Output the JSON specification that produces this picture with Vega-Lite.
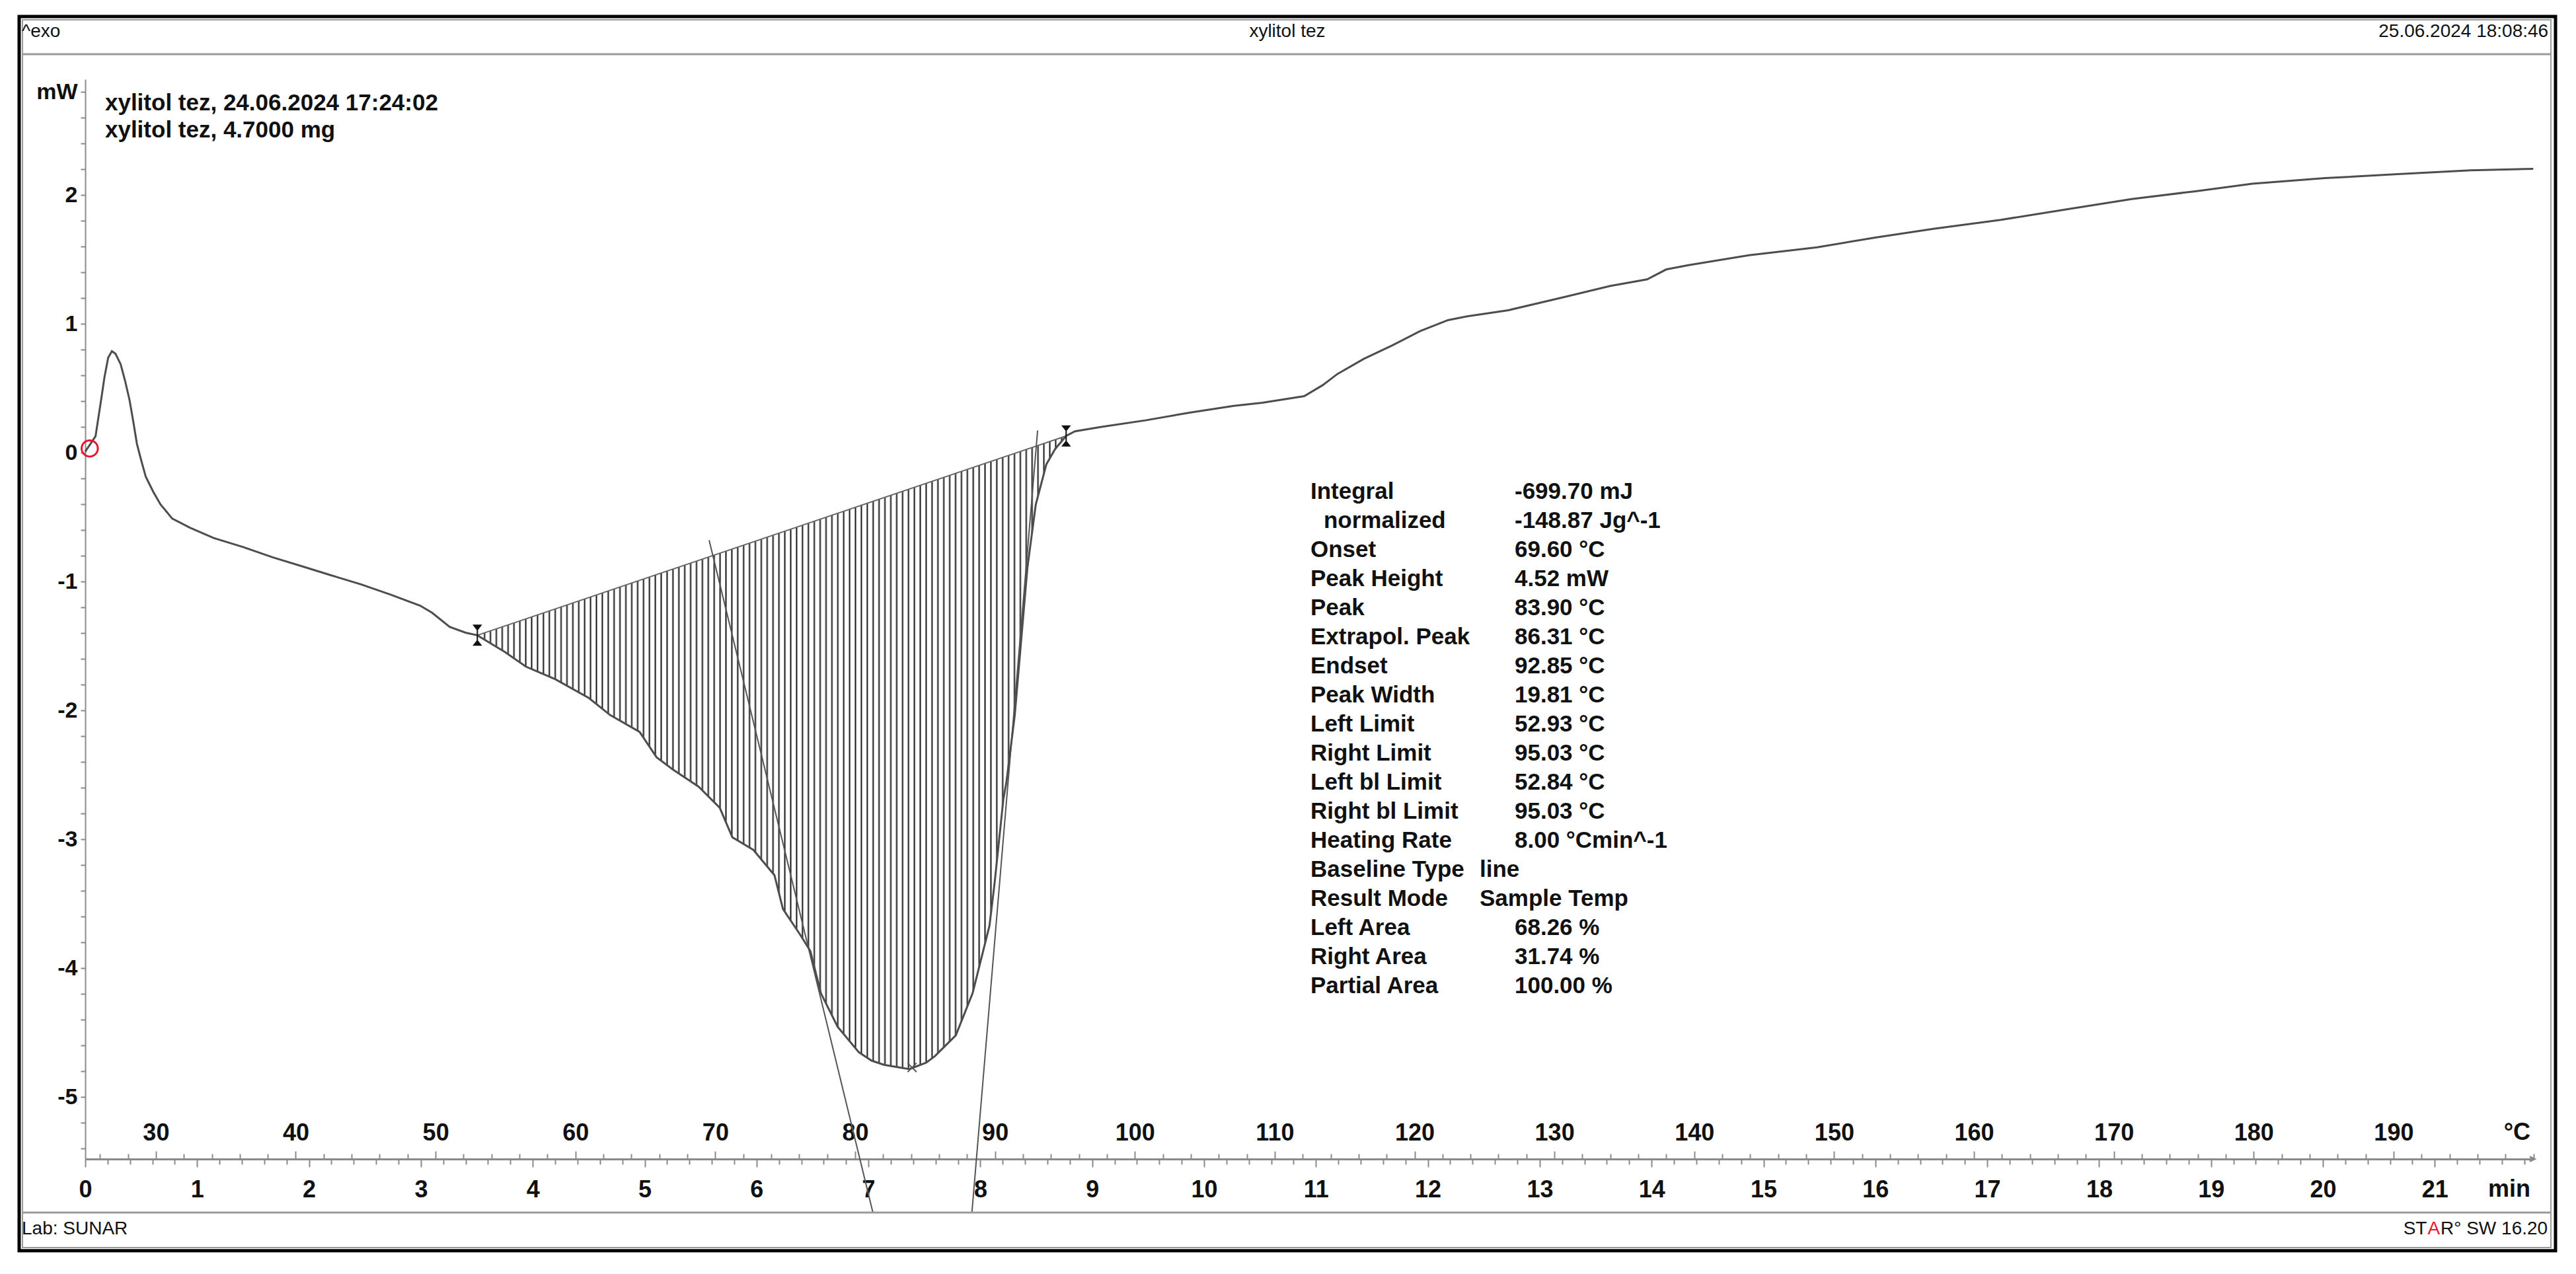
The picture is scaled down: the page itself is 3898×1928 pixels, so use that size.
{
  "$schema": "https://vega.github.io/schema/vega-lite/v6.json",
  "width": 3706,
  "height": 1634,
  "autosize": "none",
  "padding": {"left": 129, "top": 120, "right": 63, "bottom": 174},
  "background": "#ffffff",
  "config": {
    "view": {"stroke": null},
    "font": "Liberation Sans",
    "axis": {
      "grid": false,
      "labelFont": "Liberation Sans",
      "labelFontWeight": "bold",
      "labelColor": "#111111",
      "domainColor": "#8a8a8a",
      "tickColor": "#8a8a8a",
      "tickWidth": 2,
      "labelFlush": false,
      "labelOverlap": false,
      "labelBound": false
    }
  },
  "datasets": {
    "dsc": [
      {"t": 0, "v": 0.01},
      {"t": 0.092, "v": 0.13},
      {"t": 0.145, "v": 0.43},
      {"t": 0.172, "v": 0.59},
      {"t": 0.205, "v": 0.74},
      {"t": 0.238, "v": 0.79},
      {"t": 0.27, "v": 0.77},
      {"t": 0.316, "v": 0.69},
      {"t": 0.356, "v": 0.56},
      {"t": 0.396, "v": 0.41},
      {"t": 0.43, "v": 0.24},
      {"t": 0.462, "v": 0.07},
      {"t": 0.501, "v": -0.06},
      {"t": 0.541, "v": -0.185},
      {"t": 0.607, "v": -0.3},
      {"t": 0.673, "v": -0.4},
      {"t": 0.778, "v": -0.51},
      {"t": 0.936, "v": -0.58},
      {"t": 1.147, "v": -0.66},
      {"t": 1.411, "v": -0.73},
      {"t": 1.675, "v": -0.81},
      {"t": 1.938, "v": -0.88},
      {"t": 2.2, "v": -0.95},
      {"t": 2.465, "v": -1.02},
      {"t": 2.729, "v": -1.1},
      {"t": 2.993, "v": -1.185},
      {"t": 3.1, "v": -1.24},
      {"t": 3.257, "v": -1.35},
      {"t": 3.4, "v": -1.395},
      {"t": 3.5045, "v": -1.415, "base": -1.415},
      {"t": 3.749, "v": -1.544, "base": -1.343},
      {"t": 3.938, "v": -1.658, "base": -1.288},
      {"t": 4.201, "v": -1.756, "base": -1.21},
      {"t": 4.503, "v": -1.903, "base": -1.122},
      {"t": 4.691, "v": -2.034, "base": -1.066},
      {"t": 4.955, "v": -2.165, "base": -0.989},
      {"t": 5.106, "v": -2.361, "base": -0.944},
      {"t": 5.256, "v": -2.459, "base": -0.9},
      {"t": 5.482, "v": -2.59, "base": -0.834},
      {"t": 5.671, "v": -2.754, "base": -0.778},
      {"t": 5.784, "v": -2.983, "base": -0.745},
      {"t": 5.972, "v": -3.081, "base": -0.69},
      {"t": 6.16, "v": -3.277, "base": -0.635},
      {"t": 6.236, "v": -3.539, "base": -0.612},
      {"t": 6.387, "v": -3.735, "base": -0.568},
      {"t": 6.481, "v": -3.866, "base": -0.54},
      {"t": 6.575, "v": -4.193, "base": -0.513},
      {"t": 6.725, "v": -4.454, "base": -0.469},
      {"t": 6.914, "v": -4.651, "base": -0.413},
      {"t": 7.027, "v": -4.716, "base": -0.38},
      {"t": 7.14, "v": -4.749, "base": -0.347},
      {"t": 7.366, "v": -4.782, "base": -0.28},
      {"t": 7.516, "v": -4.732, "base": -0.236},
      {"t": 7.592, "v": -4.683, "base": -0.214},
      {"t": 7.781, "v": -4.52, "base": -0.158},
      {"t": 7.931, "v": -4.193, "base": -0.114},
      {"t": 8.082, "v": -3.669, "base": -0.07},
      {"t": 8.127, "v": -3.343, "base": -0.056},
      {"t": 8.206, "v": -2.688, "base": -0.033},
      {"t": 8.233, "v": -2.557, "base": -0.025},
      {"t": 8.308, "v": -2.034, "base": -0.003},
      {"t": 8.421, "v": -0.889, "base": 0.03},
      {"t": 8.496, "v": -0.399, "base": 0.052},
      {"t": 8.59, "v": -0.089, "base": 0.08},
      {"t": 8.669, "v": 0.031, "base": 0.103},
      {"t": 8.767, "v": 0.132, "base": 0.132},
      {"t": 8.846, "v": 0.168},
      {"t": 9.083, "v": 0.202},
      {"t": 9.476, "v": 0.253},
      {"t": 9.87, "v": 0.313},
      {"t": 10.264, "v": 0.365},
      {"t": 10.52, "v": 0.39},
      {"t": 10.895, "v": 0.441},
      {"t": 11.06, "v": 0.526},
      {"t": 11.19, "v": 0.612},
      {"t": 11.43, "v": 0.731},
      {"t": 11.68, "v": 0.834},
      {"t": 11.93, "v": 0.945},
      {"t": 12.18, "v": 1.031},
      {"t": 12.35, "v": 1.06},
      {"t": 12.72, "v": 1.108},
      {"t": 13.22, "v": 1.21},
      {"t": 13.63, "v": 1.296},
      {"t": 13.96, "v": 1.347},
      {"t": 14.13, "v": 1.424},
      {"t": 14.33, "v": 1.458},
      {"t": 14.87, "v": 1.535},
      {"t": 15.48, "v": 1.596},
      {"t": 16.0, "v": 1.672},
      {"t": 16.52, "v": 1.74},
      {"t": 17.12, "v": 1.809},
      {"t": 17.73, "v": 1.894},
      {"t": 18.29, "v": 1.971},
      {"t": 18.85, "v": 2.03},
      {"t": 19.37, "v": 2.09},
      {"t": 20.02, "v": 2.133},
      {"t": 20.67, "v": 2.164},
      {"t": 21.32, "v": 2.193},
      {"t": 21.88, "v": 2.205}
    ],
    "baseline": [
      {"t": 3.5045, "v": -1.415},
      {"t": 8.767, "v": 0.132}
    ],
    "tangents": [
      {"name": "onset", "t": 5.576, "v": -0.677, "t2": 7.04, "v2": -5.895},
      {"name": "endset", "t": 8.512, "v": 0.174, "t2": 7.925, "v2": -5.895}
    ],
    "limits": [
      {"name": "left", "t": 3.5045, "v": -1.415},
      {"name": "right", "t": 8.767, "v": 0.132}
    ],
    "peak": [{"t": 7.39, "v": -4.77}],
    "start": [{"t": 0.04, "v": 0.035}]
  },
  "resolve": {"scale": {"x": "independent"}, "axis": {"x": "independent"}},
  "layer": [
    {
      "data": {"values": [{}]},
      "resolve": {"axis": {"x": "independent", "y": "independent"}},
      "layer": [
        {
          "data": {"name": "dsc"},
          "transform": [{"filter": "isValid(datum.base)"}],
          "mark": {
            "type": "area",
            "stroke": null,
            "fill": {
              "gradient": "linear", "x1": 0, "y1": 0, "x2": 1, "y2": 0,
              "stops": [
                {"offset":0,"color":"#fff"},{"offset":0.00225,"color":"#111"},{"offset":0.0045,"color":"#fff"},
                {"offset":0.01,"color":"#fff"},{"offset":0.01225,"color":"#111"},{"offset":0.0145,"color":"#fff"},
                {"offset":0.02,"color":"#fff"},{"offset":0.02225,"color":"#111"},{"offset":0.0245,"color":"#fff"},
                {"offset":0.03,"color":"#fff"},{"offset":0.03225,"color":"#111"},{"offset":0.0345,"color":"#fff"},
                {"offset":0.04,"color":"#fff"},{"offset":0.04225,"color":"#111"},{"offset":0.0445,"color":"#fff"},
                {"offset":0.05,"color":"#fff"},{"offset":0.05225,"color":"#111"},{"offset":0.0545,"color":"#fff"},
                {"offset":0.06,"color":"#fff"},{"offset":0.06225,"color":"#111"},{"offset":0.0645,"color":"#fff"},
                {"offset":0.07,"color":"#fff"},{"offset":0.07225,"color":"#111"},{"offset":0.0745,"color":"#fff"},
                {"offset":0.08,"color":"#fff"},{"offset":0.08225,"color":"#111"},{"offset":0.0845,"color":"#fff"},
                {"offset":0.09,"color":"#fff"},{"offset":0.09225,"color":"#111"},{"offset":0.0945,"color":"#fff"},
                {"offset":0.10,"color":"#fff"},{"offset":0.10225,"color":"#111"},{"offset":0.1045,"color":"#fff"},
                {"offset":0.11,"color":"#fff"},{"offset":0.11225,"color":"#111"},{"offset":0.1145,"color":"#fff"},
                {"offset":0.12,"color":"#fff"},{"offset":0.12225,"color":"#111"},{"offset":0.1245,"color":"#fff"},
                {"offset":0.13,"color":"#fff"},{"offset":0.13225,"color":"#111"},{"offset":0.1345,"color":"#fff"},
                {"offset":0.14,"color":"#fff"},{"offset":0.14225,"color":"#111"},{"offset":0.1445,"color":"#fff"},
                {"offset":0.15,"color":"#fff"},{"offset":0.15225,"color":"#111"},{"offset":0.1545,"color":"#fff"},
                {"offset":0.16,"color":"#fff"},{"offset":0.16225,"color":"#111"},{"offset":0.1645,"color":"#fff"},
                {"offset":0.17,"color":"#fff"},{"offset":0.17225,"color":"#111"},{"offset":0.1745,"color":"#fff"},
                {"offset":0.18,"color":"#fff"},{"offset":0.18225,"color":"#111"},{"offset":0.1845,"color":"#fff"},
                {"offset":0.19,"color":"#fff"},{"offset":0.19225,"color":"#111"},{"offset":0.1945,"color":"#fff"},
                {"offset":0.20,"color":"#fff"},{"offset":0.20225,"color":"#111"},{"offset":0.2045,"color":"#fff"},
                {"offset":0.21,"color":"#fff"},{"offset":0.21225,"color":"#111"},{"offset":0.2145,"color":"#fff"},
                {"offset":0.22,"color":"#fff"},{"offset":0.22225,"color":"#111"},{"offset":0.2245,"color":"#fff"},
                {"offset":0.23,"color":"#fff"},{"offset":0.23225,"color":"#111"},{"offset":0.2345,"color":"#fff"},
                {"offset":0.24,"color":"#fff"},{"offset":0.24225,"color":"#111"},{"offset":0.2445,"color":"#fff"},
                {"offset":0.25,"color":"#fff"},{"offset":0.25225,"color":"#111"},{"offset":0.2545,"color":"#fff"},
                {"offset":0.26,"color":"#fff"},{"offset":0.26225,"color":"#111"},{"offset":0.2645,"color":"#fff"},
                {"offset":0.27,"color":"#fff"},{"offset":0.27225,"color":"#111"},{"offset":0.2745,"color":"#fff"},
                {"offset":0.28,"color":"#fff"},{"offset":0.28225,"color":"#111"},{"offset":0.2845,"color":"#fff"},
                {"offset":0.29,"color":"#fff"},{"offset":0.29225,"color":"#111"},{"offset":0.2945,"color":"#fff"},
                {"offset":0.30,"color":"#fff"},{"offset":0.30225,"color":"#111"},{"offset":0.3045,"color":"#fff"},
                {"offset":0.31,"color":"#fff"},{"offset":0.31225,"color":"#111"},{"offset":0.3145,"color":"#fff"},
                {"offset":0.32,"color":"#fff"},{"offset":0.32225,"color":"#111"},{"offset":0.3245,"color":"#fff"},
                {"offset":0.33,"color":"#fff"},{"offset":0.33225,"color":"#111"},{"offset":0.3345,"color":"#fff"},
                {"offset":0.34,"color":"#fff"},{"offset":0.34225,"color":"#111"},{"offset":0.3445,"color":"#fff"},
                {"offset":0.35,"color":"#fff"},{"offset":0.35225,"color":"#111"},{"offset":0.3545,"color":"#fff"},
                {"offset":0.36,"color":"#fff"},{"offset":0.36225,"color":"#111"},{"offset":0.3645,"color":"#fff"},
                {"offset":0.37,"color":"#fff"},{"offset":0.37225,"color":"#111"},{"offset":0.3745,"color":"#fff"},
                {"offset":0.38,"color":"#fff"},{"offset":0.38225,"color":"#111"},{"offset":0.3845,"color":"#fff"},
                {"offset":0.39,"color":"#fff"},{"offset":0.39225,"color":"#111"},{"offset":0.3945,"color":"#fff"},
                {"offset":0.40,"color":"#fff"},{"offset":0.40225,"color":"#111"},{"offset":0.4045,"color":"#fff"},
                {"offset":0.41,"color":"#fff"},{"offset":0.41225,"color":"#111"},{"offset":0.4145,"color":"#fff"},
                {"offset":0.42,"color":"#fff"},{"offset":0.42225,"color":"#111"},{"offset":0.4245,"color":"#fff"},
                {"offset":0.43,"color":"#fff"},{"offset":0.43225,"color":"#111"},{"offset":0.4345,"color":"#fff"},
                {"offset":0.44,"color":"#fff"},{"offset":0.44225,"color":"#111"},{"offset":0.4445,"color":"#fff"},
                {"offset":0.45,"color":"#fff"},{"offset":0.45225,"color":"#111"},{"offset":0.4545,"color":"#fff"},
                {"offset":0.46,"color":"#fff"},{"offset":0.46225,"color":"#111"},{"offset":0.4645,"color":"#fff"},
                {"offset":0.47,"color":"#fff"},{"offset":0.47225,"color":"#111"},{"offset":0.4745,"color":"#fff"},
                {"offset":0.48,"color":"#fff"},{"offset":0.48225,"color":"#111"},{"offset":0.4845,"color":"#fff"},
                {"offset":0.49,"color":"#fff"},{"offset":0.49225,"color":"#111"},{"offset":0.4945,"color":"#fff"},
                {"offset":0.50,"color":"#fff"},{"offset":0.50225,"color":"#111"},{"offset":0.5045,"color":"#fff"},
                {"offset":0.51,"color":"#fff"},{"offset":0.51225,"color":"#111"},{"offset":0.5145,"color":"#fff"},
                {"offset":0.52,"color":"#fff"},{"offset":0.52225,"color":"#111"},{"offset":0.5245,"color":"#fff"},
                {"offset":0.53,"color":"#fff"},{"offset":0.53225,"color":"#111"},{"offset":0.5345,"color":"#fff"},
                {"offset":0.54,"color":"#fff"},{"offset":0.54225,"color":"#111"},{"offset":0.5445,"color":"#fff"},
                {"offset":0.55,"color":"#fff"},{"offset":0.55225,"color":"#111"},{"offset":0.5545,"color":"#fff"},
                {"offset":0.56,"color":"#fff"},{"offset":0.56225,"color":"#111"},{"offset":0.5645,"color":"#fff"},
                {"offset":0.57,"color":"#fff"},{"offset":0.57225,"color":"#111"},{"offset":0.5745,"color":"#fff"},
                {"offset":0.58,"color":"#fff"},{"offset":0.58225,"color":"#111"},{"offset":0.5845,"color":"#fff"},
                {"offset":0.59,"color":"#fff"},{"offset":0.59225,"color":"#111"},{"offset":0.5945,"color":"#fff"},
                {"offset":0.60,"color":"#fff"},{"offset":0.60225,"color":"#111"},{"offset":0.6045,"color":"#fff"},
                {"offset":0.61,"color":"#fff"},{"offset":0.61225,"color":"#111"},{"offset":0.6145,"color":"#fff"},
                {"offset":0.62,"color":"#fff"},{"offset":0.62225,"color":"#111"},{"offset":0.6245,"color":"#fff"},
                {"offset":0.63,"color":"#fff"},{"offset":0.63225,"color":"#111"},{"offset":0.6345,"color":"#fff"},
                {"offset":0.64,"color":"#fff"},{"offset":0.64225,"color":"#111"},{"offset":0.6445,"color":"#fff"},
                {"offset":0.65,"color":"#fff"},{"offset":0.65225,"color":"#111"},{"offset":0.6545,"color":"#fff"},
                {"offset":0.66,"color":"#fff"},{"offset":0.66225,"color":"#111"},{"offset":0.6645,"color":"#fff"},
                {"offset":0.67,"color":"#fff"},{"offset":0.67225,"color":"#111"},{"offset":0.6745,"color":"#fff"},
                {"offset":0.68,"color":"#fff"},{"offset":0.68225,"color":"#111"},{"offset":0.6845,"color":"#fff"},
                {"offset":0.69,"color":"#fff"},{"offset":0.69225,"color":"#111"},{"offset":0.6945,"color":"#fff"},
                {"offset":0.70,"color":"#fff"},{"offset":0.70225,"color":"#111"},{"offset":0.7045,"color":"#fff"},
                {"offset":0.71,"color":"#fff"},{"offset":0.71225,"color":"#111"},{"offset":0.7145,"color":"#fff"},
                {"offset":0.72,"color":"#fff"},{"offset":0.72225,"color":"#111"},{"offset":0.7245,"color":"#fff"},
                {"offset":0.73,"color":"#fff"},{"offset":0.73225,"color":"#111"},{"offset":0.7345,"color":"#fff"},
                {"offset":0.74,"color":"#fff"},{"offset":0.74225,"color":"#111"},{"offset":0.7445,"color":"#fff"},
                {"offset":0.75,"color":"#fff"},{"offset":0.75225,"color":"#111"},{"offset":0.7545,"color":"#fff"},
                {"offset":0.76,"color":"#fff"},{"offset":0.76225,"color":"#111"},{"offset":0.7645,"color":"#fff"},
                {"offset":0.77,"color":"#fff"},{"offset":0.77225,"color":"#111"},{"offset":0.7745,"color":"#fff"},
                {"offset":0.78,"color":"#fff"},{"offset":0.78225,"color":"#111"},{"offset":0.7845,"color":"#fff"},
                {"offset":0.79,"color":"#fff"},{"offset":0.79225,"color":"#111"},{"offset":0.7945,"color":"#fff"},
                {"offset":0.80,"color":"#fff"},{"offset":0.80225,"color":"#111"},{"offset":0.8045,"color":"#fff"},
                {"offset":0.81,"color":"#fff"},{"offset":0.81225,"color":"#111"},{"offset":0.8145,"color":"#fff"},
                {"offset":0.82,"color":"#fff"},{"offset":0.82225,"color":"#111"},{"offset":0.8245,"color":"#fff"},
                {"offset":0.83,"color":"#fff"},{"offset":0.83225,"color":"#111"},{"offset":0.8345,"color":"#fff"},
                {"offset":0.84,"color":"#fff"},{"offset":0.84225,"color":"#111"},{"offset":0.8445,"color":"#fff"},
                {"offset":0.85,"color":"#fff"},{"offset":0.85225,"color":"#111"},{"offset":0.8545,"color":"#fff"},
                {"offset":0.86,"color":"#fff"},{"offset":0.86225,"color":"#111"},{"offset":0.8645,"color":"#fff"},
                {"offset":0.87,"color":"#fff"},{"offset":0.87225,"color":"#111"},{"offset":0.8745,"color":"#fff"},
                {"offset":0.88,"color":"#fff"},{"offset":0.88225,"color":"#111"},{"offset":0.8845,"color":"#fff"},
                {"offset":0.89,"color":"#fff"},{"offset":0.89225,"color":"#111"},{"offset":0.8945,"color":"#fff"},
                {"offset":0.90,"color":"#fff"},{"offset":0.90225,"color":"#111"},{"offset":0.9045,"color":"#fff"},
                {"offset":0.91,"color":"#fff"},{"offset":0.91225,"color":"#111"},{"offset":0.9145,"color":"#fff"},
                {"offset":0.92,"color":"#fff"},{"offset":0.92225,"color":"#111"},{"offset":0.9245,"color":"#fff"},
                {"offset":0.93,"color":"#fff"},{"offset":0.93225,"color":"#111"},{"offset":0.9345,"color":"#fff"},
                {"offset":0.94,"color":"#fff"},{"offset":0.94225,"color":"#111"},{"offset":0.9445,"color":"#fff"},
                {"offset":0.95,"color":"#fff"},{"offset":0.95225,"color":"#111"},{"offset":0.9545,"color":"#fff"},
                {"offset":0.96,"color":"#fff"},{"offset":0.96225,"color":"#111"},{"offset":0.9645,"color":"#fff"},
                {"offset":0.97,"color":"#fff"},{"offset":0.97225,"color":"#111"},{"offset":0.9745,"color":"#fff"},
                {"offset":0.98,"color":"#fff"},{"offset":0.98225,"color":"#111"},{"offset":0.9845,"color":"#fff"},
                {"offset":0.99,"color":"#fff"},{"offset":0.99225,"color":"#111"},{"offset":0.9945,"color":"#fff"}
              ]
            }
          },
          "encoding": {
            "x": {
              "field": "t", "type": "quantitative", "title": null,
              "axis": {
                "values": [0.2,0.4,0.6,0.8,1.2,1.4,1.6,1.8,2.2,2.4,2.6,2.8,3.2,3.4,3.6,3.8,4.2,4.4,4.6,4.8,5.2,5.4,5.6,5.8,6.2,6.4,6.6,6.8,7.2,7.4,7.6,7.8,8.2,8.4,8.6,8.8,9.2,9.4,9.6,9.8,10.2,10.4,10.6,10.8,11.2,11.4,11.6,11.8,12.2,12.4,12.6,12.8,13.2,13.4,13.6,13.8,14.2,14.4,14.6,14.8,15.2,15.4,15.6,15.8,16.2,16.4,16.6,16.8,17.2,17.4,17.6,17.8,18.2,18.4,18.6,18.8,19.2,19.4,19.6,19.8,20.2,20.4,20.6,20.8,21.2,21.4,21.6,21.8],
                "orient": "bottom", "domain": false, "labels": false, "tickSize": 8
              }
            },
            "y": {
              "field": "base", "type": "quantitative", "title": null,
              "scale": {"domain": [-5.48, 2.9], "nice": false, "zero": false},
              "axis": {
                "values": [-5.4,-5.2,-4.8,-4.6,-4.4,-4.2,-3.8,-3.6,-3.4,-3.2,-2.8,-2.6,-2.4,-2.2,-1.8,-1.6,-1.4,-1.2,-0.8,-0.6,-0.4,-0.2,0.2,0.4,0.6,0.8,1.2,1.4,1.6,1.8,2.2,2.4,2.6],
                "orient": "left", "domain": false, "labels": false, "tickSize": 7
              }
            },
            "y2": {"field": "v"}
          }
        },
        {
          "data": {"name": "baseline"},
          "mark": {"type": "line", "stroke": "#666666", "strokeWidth": 2},
          "encoding": {
            "x": {"field": "t", "type": "quantitative", "axis": null},
            "y": {"field": "v", "type": "quantitative", "axis": null}
          }
        },
        {
          "data": {"name": "tangents"},
          "mark": {"type": "rule", "stroke": "#555555", "strokeWidth": 2, "clip": false},
          "encoding": {
            "x": {"field": "t", "type": "quantitative", "axis": null},
            "y": {"field": "v", "type": "quantitative", "axis": null},
            "x2": {"field": "t2"},
            "y2": {"field": "v2"}
          }
        },
        {
          "data": {"name": "dsc"},
          "mark": {"type": "line", "stroke": "#4d4d4d", "strokeWidth": 3},
          "encoding": {
            "x": {
              "field": "t", "type": "quantitative", "title": null,
              "scale": {"domain": [0, 21.89], "nice": false, "zero": false},
              "axis": {
                "values": [0,1,2,3,4,5,6,7,8,9,10,11,12,13,14,15,16,17,18,19,20,21],
                "labelOverlap": false,
                "orient": "bottom", "domain": true, "domainWidth": 3,
                "tickSize": 12, "labelFontSize": 36, "labelBaseline": "middle", "labelPadding": 34
              }
            },
            "y": {
              "field": "v", "type": "quantitative", "title": null,
              "axis": {
                "values": [-5, -4, -3, -2, -1, 0, 1, 2, 2.8],
                "labelExpr": "datum.value == 2.8 ? 'mW' : '' + datum.value",
                "labelOverlap": false,
                "orient": "left", "domain": true, "domainWidth": 2, "tickSize": 7, "labelPadding": 5, "labelFontSize": 34
              }
            }
          }
        },
        {
          "data": {"name": "limits"},
          "mark": {"type": "point", "shape": "M-0.35,-1L0.35,-1L0,-0.55Z M0,-1L0,1 M-0.35,1L0.35,1L0,0.55Z", "size": 900, "filled": true, "color": "#111111", "stroke": "#111111", "strokeWidth": 2, "opacity": 1},
          "encoding": {
            "x": {"field": "t", "type": "quantitative", "axis": null},
            "y": {"field": "v", "type": "quantitative", "axis": null}
          }
        },
        {
          "data": {"name": "peak"},
          "mark": {"type": "point", "shape": "M-1,-1L1,1M1,-1L-1,1", "size": 180, "filled": false, "stroke": "#555555", "strokeWidth": 2, "opacity": 1},
          "encoding": {
            "x": {"field": "t", "type": "quantitative", "axis": null},
            "y": {"field": "v", "type": "quantitative", "axis": null}
          }
        },
        {
          "data": {"name": "start"},
          "mark": {"type": "point", "shape": "circle", "size": 600, "filled": false, "stroke": "#e8162a", "strokeWidth": 3, "opacity": 1, "clip": false},
          "encoding": {
            "x": {"field": "t", "type": "quantitative", "axis": null},
            "y": {"field": "v", "type": "quantitative", "axis": null}
          }
        },
        {
          "mark": {"type": "point", "shape": "M-1,-0.5L0,0L-1,0.5", "size": 196, "filled": false, "stroke": "#8a8a8a", "strokeWidth": 3, "opacity": 1, "clip": false},
          "encoding": {
            "x": {"datum": 21.89, "type": "quantitative", "axis": null},
            "y": {"datum": -5.48, "type": "quantitative", "axis": null}
          }
        },
        {
          "mark": {"type": "rect", "filled": false, "stroke": "#000000", "strokeWidth": 5, "clip": false},
          "encoding": {
            "x": {"datum": -0.5907, "type": "quantitative", "axis": null},
            "x2": {"datum": 22.079},
            "y": {"datum": 3.387, "type": "quantitative", "axis": null},
            "y2": {"datum": -6.192}
          }
        },
        {
          "mark": {"type": "rect", "filled": false, "stroke": "#9a9a9a", "strokeWidth": 2, "clip": false},
          "encoding": {
            "x": {"datum": -0.561, "type": "quantitative", "axis": null},
            "x2": {"datum": 22.038},
            "y": {"datum": 3.362, "type": "quantitative", "axis": null},
            "y2": {"datum": -6.167}
          }
        },
        {
          "mark": {"type": "rule", "stroke": "#9a9a9a", "strokeWidth": 3, "clip": false},
          "encoding": {
            "x": {"datum": -0.561, "type": "quantitative", "axis": null},
            "x2": {"datum": 22.038},
            "y": {"datum": 3.095, "type": "quantitative", "axis": null}
          }
        },
        {
          "mark": {"type": "rule", "stroke": "#9a9a9a", "strokeWidth": 3, "clip": false},
          "encoding": {
            "x": {"datum": -0.561, "type": "quantitative", "axis": null},
            "x2": {"datum": 22.038},
            "y": {"datum": -5.895, "type": "quantitative", "axis": null}
          }
        },
        {
          "data": {"values": [{"label": "^exo"}]},
          "mark": {"type": "text", "align": "left", "baseline": "middle", "fontSize": 28, "color": "#111111", "clip": false},
          "encoding": {
            "x": {"datum": -0.567, "type": "quantitative", "axis": null},
            "y": {"datum": 3.269, "type": "quantitative", "axis": null},
            "text": {"field": "label"}
          }
        },
        {
          "data": {"values": [{"label": "xylitol tez"}]},
          "mark": {"type": "text", "align": "center", "baseline": "middle", "fontSize": 28, "color": "#111111", "clip": false},
          "encoding": {
            "x": {"datum": 10.744, "type": "quantitative", "axis": null},
            "y": {"datum": 3.269, "type": "quantitative", "axis": null},
            "text": {"field": "label"}
          }
        },
        {
          "data": {"values": [{"label": "25.06.2024 18:08:46"}]},
          "mark": {"type": "text", "align": "right", "baseline": "middle", "fontSize": 28, "color": "#111111", "clip": false},
          "encoding": {
            "x": {"datum": 22.015, "type": "quantitative", "axis": null},
            "y": {"datum": 3.269, "type": "quantitative", "axis": null},
            "text": {"field": "label"}
          }
        },
        {
          "data": {"values": [{"label": "Lab: SUNAR"}]},
          "mark": {"type": "text", "align": "left", "baseline": "middle", "fontSize": 28, "color": "#111111", "clip": false},
          "encoding": {
            "x": {"datum": -0.567, "type": "quantitative", "axis": null},
            "y": {"datum": -6.023, "type": "quantitative", "axis": null},
            "text": {"field": "label"}
          }
        },
        {
          "data": {"values": [{"label": "R° SW 16.20"}]},
          "mark": {"type": "text", "align": "right", "baseline": "middle", "fontSize": 28, "color": "#111111", "clip": false},
          "encoding": {
            "x": {"datum": 22.009, "type": "quantitative", "axis": null},
            "y": {"datum": -6.023, "type": "quantitative", "axis": null},
            "text": {"field": "label"}
          }
        },
        {
          "data": {"values": [{"label": "A"}]},
          "mark": {"type": "text", "align": "right", "baseline": "middle", "fontSize": 28, "color": "#e8162a", "clip": false},
          "encoding": {
            "x": {"datum": 21.047, "type": "quantitative", "axis": null},
            "y": {"datum": -6.023, "type": "quantitative", "axis": null},
            "text": {"field": "label"}
          }
        },
        {
          "data": {"values": [{"label": "ST"}]},
          "mark": {"type": "text", "align": "right", "baseline": "middle", "fontSize": 28, "color": "#111111", "clip": false},
          "encoding": {
            "x": {"datum": 20.93, "type": "quantitative", "axis": null},
            "y": {"datum": -6.023, "type": "quantitative", "axis": null},
            "text": {"field": "label"}
          }
        },
        {
          "data": {"values": [{"label": "°C"}]},
          "mark": {"type": "text", "align": "right", "baseline": "middle", "fontSize": 36, "fontWeight": "bold", "color": "#111111", "clip": false},
          "encoding": {
            "x": {"datum": 21.855, "type": "quantitative", "axis": null},
            "y": {"datum": -5.274, "type": "quantitative", "axis": null},
            "text": {"field": "label"}
          }
        },
        {
          "data": {"values": [{"label": "min"}]},
          "mark": {"type": "text", "align": "right", "baseline": "middle", "fontSize": 36, "fontWeight": "bold", "color": "#111111", "clip": false},
          "encoding": {
            "x": {"datum": 21.855, "type": "quantitative", "axis": null},
            "y": {"datum": -5.715, "type": "quantitative", "axis": null},
            "text": {"field": "label"}
          }
        },
        {
          "mark": {"type": "text", "align": "left", "baseline": "top", "fontSize": 35, "fontWeight": "bold", "lineHeight": 41, "color": "#111111"},
          "encoding": {
            "x": {"datum": 0.177, "type": "quantitative", "axis": null},
            "y": {"datum": 2.8, "type": "quantitative", "axis": null},
            "text": {"value": ["xylitol tez, 24.06.2024 17:24:02", "xylitol tez, 4.7000 mg"]}
          }
        },
        {
          "mark": {"type": "text", "align": "left", "baseline": "top", "fontSize": 35, "fontWeight": "bold", "lineHeight": 44, "color": "#111111"},
          "encoding": {
            "x": {"datum": 10.951, "type": "quantitative", "axis": null},
            "y": {"datum": -0.2154, "type": "quantitative", "axis": null},
            "text": {"value": "Integral"}
          }
        },
        {
          "mark": {"type": "text", "align": "left", "baseline": "top", "fontSize": 35, "fontWeight": "bold", "lineHeight": 44, "color": "#111111"},
          "encoding": {
            "x": {"datum": 11.069, "type": "quantitative", "axis": null},
            "y": {"datum": -0.441, "type": "quantitative", "axis": null},
            "text": {"value": "normalized"}
          }
        },
        {
          "mark": {"type": "text", "align": "left", "baseline": "top", "fontSize": 35, "fontWeight": "bold", "lineHeight": 44, "color": "#111111"},
          "encoding": {
            "x": {"datum": 10.951, "type": "quantitative", "axis": null},
            "y": {"datum": -0.6667, "type": "quantitative", "axis": null},
            "text": {"value": ["Onset", "Peak Height", "Peak", "Extrapol. Peak", "Endset", "Peak Width", "Left Limit", "Right Limit", "Left bl Limit", "Right bl Limit", "Heating Rate", "Baseline Type", "Result Mode", "Left Area", "Right Area", "Partial Area"]}
          }
        },
        {
          "mark": {"type": "text", "align": "left", "baseline": "top", "fontSize": 35, "fontWeight": "bold", "lineHeight": 44, "color": "#111111"},
          "encoding": {
            "x": {"datum": 12.776, "type": "quantitative", "axis": null},
            "y": {"datum": -0.2154, "type": "quantitative", "axis": null},
            "text": {"value": ["-699.70 mJ", "-148.87 Jg^-1", "69.60 °C", "4.52 mW", "83.90 °C", "86.31 °C", "92.85 °C", "19.81 °C", "52.93 °C", "95.03 °C", "52.84 °C", "95.03 °C", "8.00 °Cmin^-1"]}
          }
        },
        {
          "mark": {"type": "text", "align": "left", "baseline": "top", "fontSize": 35, "fontWeight": "bold", "lineHeight": 44, "color": "#111111"},
          "encoding": {
            "x": {"datum": 12.463, "type": "quantitative", "axis": null},
            "y": {"datum": -3.149, "type": "quantitative", "axis": null},
            "text": {"value": ["line", "Sample Temp"]}
          }
        },
        {
          "mark": {"type": "text", "align": "left", "baseline": "top", "fontSize": 35, "fontWeight": "bold", "lineHeight": 44, "color": "#111111"},
          "encoding": {
            "x": {"datum": 12.776, "type": "quantitative", "axis": null},
            "y": {"datum": -3.6, "type": "quantitative", "axis": null},
            "text": {"value": ["68.26 %", "31.74 %", "100.00 %"]}
          }
        }
      ]
    },
    {
      "data": {"values": [{"T": 100}]},
      "resolve": {"axis": {"x": "independent"}},
      "layer": [
        {
          "mark": {"type": "rule", "opacity": 0},
          "encoding": {
            "x": {
              "field": "T", "type": "quantitative", "title": null,
              "scale": {"domain": [24.95, 200.07], "nice": false, "zero": false},
              "axis": {
                "values": [30,40,50,60,70,80,90,100,110,120,130,140,150,160,170,180,190],
                "labelOverlap": false,
                "orient": "top", "offset": -1634, "domain": false,
                "tickSize": 12, "labelFontSize": 36, "labelBaseline": "middle", "labelPadding": 28
              }
            }
          }
        },
        {
          "mark": {"type": "rule", "opacity": 0},
          "encoding": {
            "x": {
              "field": "T", "type": "quantitative", "title": null,
              "axis": {
                "values": [26,28,32,34,36,38,42,44,46,48,52,54,56,58,62,64,66,68,72,74,76,78,82,84,86,88,92,94,96,98,102,104,106,108,112,114,116,118,122,124,126,128,132,134,136,138,142,144,146,148,152,154,156,158,162,164,166,168,172,174,176,178,182,184,186,188,192,194,196,198,200],
                "orient": "top", "offset": -1634, "domain": false, "labels": false, "tickSize": 8
              }
            }
          }
        }
      ]
    }
  ]
}
